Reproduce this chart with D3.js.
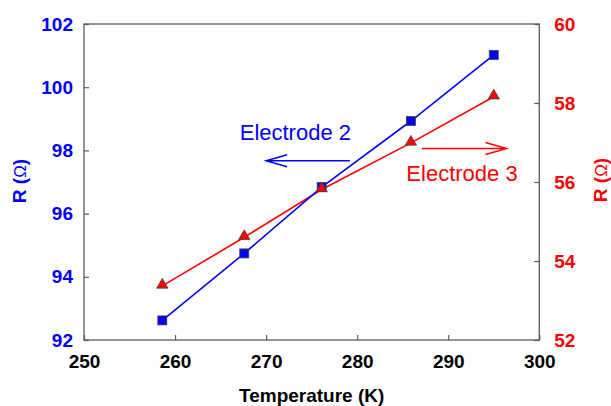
<!DOCTYPE html>
<html>
<head>
<meta charset="utf-8">
<script src="https://d3js.org/d3.v7.min.js"></script>
<style>
  html, body { margin: 0; padding: 0; background: #fff; }
  svg { display: block; font-family: "Liberation Sans", Arial, sans-serif; }
</style>
</head>
<body>
<svg id="chart" width="611" height="406"></svg>
<script>
// ---- data ----
const temperature = [258.6, 267.6, 276.1, 285.9, 295.0];
const electrode2 = [92.62, 94.74, 96.84, 98.93, 101.02];
const electrode3 = [53.37, 54.60, 55.81, 56.99, 58.16];
const xTicks = [250, 260, 270, 280, 290, 300];
const yLeftTicks = [92, 94, 96, 98, 100, 102];
const yRightTicks = [52, 54, 56, 58, 60];

(function () {
const svg = d3.select("#chart");
const pLeft = 84, pRight = 539.3, pTop = 24, pBottom = 340;

const x = d3.scaleLinear().domain([250, 300]).range([pLeft, pRight]);
const yL = d3.scaleLinear().domain([92, 102]).range([pBottom, pTop]);
const yR = d3.scaleLinear().domain([52, 60]).range([pBottom, pTop]);

const frameColor = "#5a5a5a";
const blue = "#0000ff", red = "#ff0000";

// axes
const gx = svg.append("g").attr("transform", `translate(0,${pBottom})`)
  .call(d3.axisBottom(x).tickValues(xTicks).tickFormat(d3.format("d"))
    .tickSizeInner(-5).tickSizeOuter(0).tickPadding(15));
gx.selectAll("text").attr("fill", "#000");

const gl = svg.append("g").attr("transform", `translate(${pLeft},0)`)
  .call(d3.axisLeft(yL).tickValues(yLeftTicks).tickFormat(d3.format("d"))
    .tickSizeInner(-5).tickSizeOuter(0).tickPadding(11));
gl.selectAll("text").attr("fill", blue);

const gr = svg.append("g").attr("transform", `translate(${pRight},0)`)
  .call(d3.axisRight(yR).tickValues(yRightTicks).tickFormat(d3.format("d"))
    .tickSizeInner(-5).tickSizeOuter(0).tickPadding(15));
gr.selectAll("text").attr("fill", red);

[gx, gl, gr].forEach(g => {
  g.select(".domain").remove();
  g.selectAll("line").attr("stroke", frameColor).attr("stroke-width", 1.2);
  g.selectAll("text").attr("font-size", 19).attr("font-weight", "bold")
    .attr("font-family", "'Liberation Sans', Arial, sans-serif");
});

// frame
svg.append("rect").attr("x", pLeft).attr("y", pTop)
  .attr("width", pRight - pLeft).attr("height", pBottom - pTop)
  .attr("fill", "none").attr("stroke", frameColor).attr("stroke-width", 1.3);

// lines
const lineL = d3.line().x((d, i) => x(temperature[i])).y(d => yL(d));
const lineR = d3.line().x((d, i) => x(temperature[i])).y(d => yR(d));

svg.append("path").datum(electrode3).attr("d", lineR)
  .attr("fill", "none").attr("stroke", red).attr("stroke-width", 1.6);
svg.append("path").datum(electrode2).attr("d", lineL)
  .attr("fill", "none").attr("stroke", blue).attr("stroke-width", 1.6);

// markers
const sq = 9;
svg.append("g").selectAll("rect").data(electrode2).join("rect")
  .attr("x", (d, i) => x(temperature[i]) - sq / 2)
  .attr("y", d => yL(d) - sq / 2)
  .attr("width", sq).attr("height", sq)
  .attr("fill", blue).attr("stroke", "#444").attr("stroke-width", 0.8);

const tri = d3.symbol().type(d3.symbolTriangle).size(55);
svg.append("g").selectAll("path").data(electrode3).join("path")
  .attr("transform", (d, i) => `translate(${x(temperature[i])},${yR(d) - 1})`)
  .attr("d", tri)
  .attr("fill", red).attr("stroke", "#444").attr("stroke-width", 0.8);

// annotations
function arrow(x1, x2, y, color) {
  const dir = Math.sign(x2 - x1);
  const len = 21, hw = 6;
  svg.append("path")
    .attr("d", `M${x1},${y}L${x2},${y}M${x2 - dir * len},${y - hw}L${x2},${y}L${x2 - dir * len},${y + hw}`)
    .attr("fill", "none").attr("stroke", color).attr("stroke-width", 1.5);
}
arrow(x(279.2), x(270.0), yL(97.67), blue);
arrow(x(287.1), x(296.4), yR(56.85), red);

svg.append("text").attr("x", x(267.1)).attr("y", yL(98.34))
  .attr("font-size", 22).attr("fill", blue).text("Electrode 2");
svg.append("text").attr("x", x(285.4)).attr("y", yR(56.03))
  .attr("font-size", 22).attr("fill", red).text("Electrode 3");

// axis titles
svg.append("text").attr("x", (pLeft + pRight) / 2).attr("y", 402)
  .attr("text-anchor", "middle").attr("font-size", 19).attr("font-weight", "bold")
  .attr("fill", "#000").text("Temperature (K)");

function yTitle(cx, cy, color) {
  const t = svg.append("text")
    .attr("transform", `translate(${cx},${cy}) rotate(-90)`)
    .attr("text-anchor", "middle").attr("font-size", 19).attr("fill", color);
  t.append("tspan").attr("font-weight", "bold").text("R (");
  t.append("tspan").attr("font-weight", "normal").attr("font-size", 17).text("Ω");
  t.append("tspan").attr("font-weight", "bold").text(")");
}
yTitle(25.5, 181, blue);
yTitle(606.5, 180, red);
})();
</script>
</body>
</html>
